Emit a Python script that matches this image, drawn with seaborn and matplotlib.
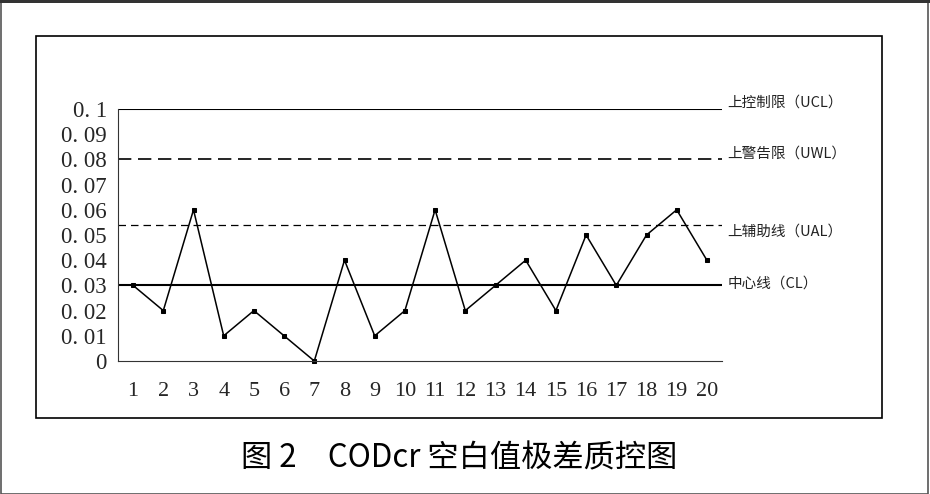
import numpy as np
import pandas as pd
import matplotlib
matplotlib.use('Agg')
import matplotlib.pyplot as plt
from matplotlib.patches import Rectangle
import seaborn as sns

# --- 数据 ---
samples = list(range(1, 21))
ranges = [0.03, 0.02, 0.06, 0.01, 0.02, 0.01, 0.00, 0.04, 0.01, 0.02,
          0.06, 0.02, 0.03, 0.04, 0.02, 0.05, 0.03, 0.05, 0.06, 0.04]
ucl, uwl, ual, cl = 0.1, 0.08, 0.054, 0.03
limit_names = ['上控制限（UCL）', '上警告限（UWL）', '上辅助线（UAL）', '中心线（CL）']
limit_values = [ucl, uwl, ual, cl]
y_ticks = [0, 0.01, 0.02, 0.03, 0.04, 0.05, 0.06, 0.07, 0.08, 0.09, 0.1]
y_tick_labels = ['0', '0. 01', '0. 02', '0. 03', '0. 04', '0. 05', '0. 06',
                 '0. 07', '0. 08', '0. 09', '0. 1']
title = '图 2　CODcr 空白值极差质控图'

df = pd.DataFrame({'样品': samples, '极差': ranges})

sns.set_style('white')
plt.rcParams['font.family'] = ['Noto Sans CJK SC', 'DejaVu Sans']

fig = plt.figure(figsize=(9.3, 4.94), dpi=100)

# 外框和图框
fig.patches.append(Rectangle((0.001, 0.001), 0.997, 0.994, transform=fig.transFigure,
                             fill=False, edgecolor='#555555', linewidth=1.2))
fig.patches.append(Rectangle((0, 0.994), 1, 0.006, transform=fig.transFigure,
                             color='#333333', linewidth=0))
fig.patches.append(Rectangle((36 / 930, 1 - 418 / 494), 846 / 930, 382 / 494,
                             transform=fig.transFigure, fill=False,
                             edgecolor='black', linewidth=1.2))

ax = fig.add_axes([118 / 930, 1 - 361 / 494, 604 / 930, 252 / 494])
ax.set_facecolor('none')

# 控制线
ax.axhline(ucl, color='black', linewidth=1.5)
ax.axhline(uwl, color='black', linewidth=1.2, linestyle=(0, (8, 4)))
ax.axhline(ual, color='black', linewidth=0.9, linestyle=(0, (6, 4)))
ax.axhline(cl, color='black', linewidth=1.5)

sns.lineplot(data=df, x='样品', y='极差', ax=ax, color='black', linewidth=1.1,
             marker='s', markersize=3, markeredgecolor='black', clip_on=False)

ax.set_xlim(0.5, 20.5)
ax.set_ylim(0, 0.1)
ax.set_xlabel('')
ax.set_ylabel('')

for s in ['top', 'right']:
    ax.spines[s].set_visible(False)
for s in ['left', 'bottom']:
    ax.spines[s].set_linewidth(0.8)
    ax.spines[s].set_color('#333333')

ax.set_xticks(samples)
ax.set_xticklabels([str(s) for s in samples], family='Liberation Serif', fontsize=16)
ax.set_xticks(np.arange(1.5, 20.5, 1), minor=True)
ax.tick_params(axis='x', which='major', length=0, pad=15)
ax.tick_params(axis='x', which='minor', direction='in', length=5, width=0.8, color='#333333')

ax.set_yticks(y_ticks)
ax.set_yticklabels(y_tick_labels, family='Liberation Serif', fontsize=16.5)
ax.tick_params(axis='y', direction='in', length=5, width=0.8, pad=8, color='#333333')

label_y = {ucl: 0.1025, uwl: 0.0822, ual: 0.0514, cl: 0.0306}
for name, v in zip(limit_names, limit_values):
    ax.text(20.67, label_y[v], name, fontsize=10.5, va='center', ha='left',
            color='#222222', clip_on=False)

fig.text(0.494, 1 - 458 / 494, title, fontsize=22.5, ha='center', va='center',
         color='black', fontweight='medium')

fig.savefig('out.png', dpi=100)
